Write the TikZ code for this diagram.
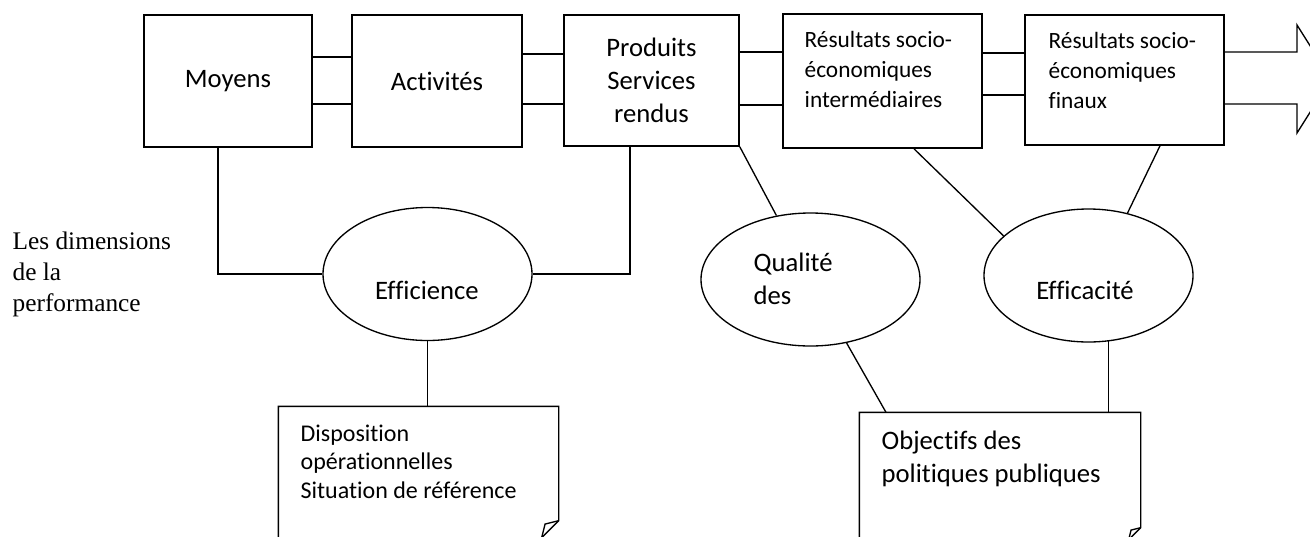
\documentclass[tikz,border=0pt]{standalone}
\usepackage{fontspec}
\setmainfont{Carlito}[Ligatures=NoCommon]
\newfontfamily\serifdim{Liberation Serif}
\usetikzlibrary{shapes.geometric,calc}

\tikzset{every picture/.style={line width=1pt}}
\tikzset{
  blockbox/.style={draw, rectangle, line width=1.2pt, inner sep=0pt, align=center, font=\fontsize{20}{24.75}\selectfont},
  ovalbox/.style={draw, ellipse, inner sep=0pt, minimum height=99.75pt},
  notebox/.style={rectangle, inner sep=0pt},
  bigtxt/.style={inner sep=0pt, align=left, font=\fontsize{20}{24.75}\selectfont},
  smalltxt/.style={inner sep=0pt, align=left, font=\fontsize{17.5}{22.5}\selectfont},
  notetxt/.style={inner sep=0pt, align=left, font=\fontsize{18}{21.4}\selectfont},
  dimtxt/.style={inner sep=0pt, align=left, font=\serifdim\fontsize{19}{23.25}\selectfont},
}

\begin{document}
\begin{tikzpicture}[x=0.75pt,y=0.75pt,yscale=-1,xscale=1]
			\useasboundingbox (0,0) rectangle (1310,536);
			\clip (0,0) rectangle (1310,536);

			% Chain of boxes
			\node[blockbox, minimum width=126pt, minimum height=99pt] (moyens) at (228,81) {Moyens};
			\node[blockbox, minimum width=127.5pt, minimum height=99pt] (activites) at (437,81) {Activités};
			\node[blockbox, minimum width=131.25pt, minimum height=98.25pt] (produits) at (651.5,80.5) {Produits\\Services\\rendus};
			\node[blockbox, minimum width=149.25pt, minimum height=100.5pt] (inter) at (882.5,81) {};
			\node[blockbox, minimum width=149.25pt, minimum height=97.5pt] (finaux) at (1124.5,80) {};
			\node[smalltxt, anchor=west] (intertxt) at (804,69) {Résultats socio-\\économiques\\intermédiaires};
			\node[smalltxt, anchor=west] (finauxtxt) at (1048,70) {Résultats socio-\\économiques\\finaux};

			% Double links between boxes
			\draw (moyens.east |- 0,57) -- (activites.west |- 0,57);
			\draw (moyens.east |- 0,104) -- (activites.west |- 0,104);
			\draw (activites.east |- 0,54) -- (produits.west |- 0,54);
			\draw (activites.east |- 0,104) -- (produits.west |- 0,104);
			\draw (produits.east |- 0,52) -- (inter.west |- 0,52);
			\draw (produits.east |- 0,105) -- (inter.west |- 0,105);
			\draw (inter.east |- 0,53) -- (finaux.west |- 0,53);
			\draw (inter.east |- 0,95) -- (finaux.west |- 0,95);

			% Open arrow at right
			\coordinate (tip) at (1331,79);
			\draw (finaux.east |- 0,52) -- (1297,52) -- (1297,25) -- (tip) -- (1297,133) -- (1297,104) -- (finaux.east |- 0,104);

			% Dimensions
			\node[ovalbox, minimum width=156.75pt] (effi) at (427.5,274) {};
			\node[ovalbox, minimum width=164.25pt] (qual) at (810.5,279.5) {};
			\node[ovalbox, minimum width=156.75pt] (effa) at (1088.5,275.5) {};
			\node[bigtxt] (effitxt) at (427,290) {Efficience};
			\node[bigtxt, anchor=west] (qualtxt) at (753,279) {Qualité\\des};
			\node[bigtxt] (effatxt) at (1085,290) {Efficacité};

			\node[dimtxt, anchor=west] (dimensions) at (12,274) {Les dimensions\\de la\\performance};

			% Notes with folded corner
			\node[notebox, minimum width=209.25pt, minimum height=97.5pt] (note1) at (418.5,472) {};
			\draw (note1.south west) -- (note1.north west) -- (note1.north east) -- ($(note1.south east)+(0,-17)$) -- ($(note1.south east)+(-17,0)$) -- cycle;
			\draw ($(note1.south east)+(0,-17)$) -- ($(note1.south east)+(-13.6,-13.6)$) -- ($(note1.south east)+(-17,0)$);
			\node[notetxt, anchor=west] (note1txt) at (300,461.5) {Disposition\\opérationnelles\\Situation de référence};

			\node[notebox, minimum width=210pt, minimum height=94.5pt] (note2) at (1000,476) {};
			\draw (note2.south west) -- (note2.north west) -- (note2.north east) -- ($(note2.south east)+(0,-12)$) -- ($(note2.south east)+(-12,0)$) -- cycle;
			\draw ($(note2.south east)+(0,-12)$) -- ($(note2.south east)+(-9.6,-9.6)$) -- ($(note2.south east)+(-12,0)$);
			\node[bigtxt, anchor=west] (note2txt) at (881,458.5) {Objectifs des\\politiques publiques};

			% Links to the dimensions
			\draw (moyens.south -| 218,0) |- (effi.west);
			\draw (produits.south -| 630,0) |- (effi.east);
			\draw (effi.south) -- (effi.south |- note1.north);
			\draw (produits.south east) -- (qual);
			\draw (inter.south -| 914,0) -- (effa.155);
			\draw (finaux.south -| 1160,0) -- (effa.58);
			\draw (qual) -- (note2.north -| 886,0);
			\draw (effa.287) -- (effa.287 |- note2.north);

		\end{tikzpicture}
\end{document}
